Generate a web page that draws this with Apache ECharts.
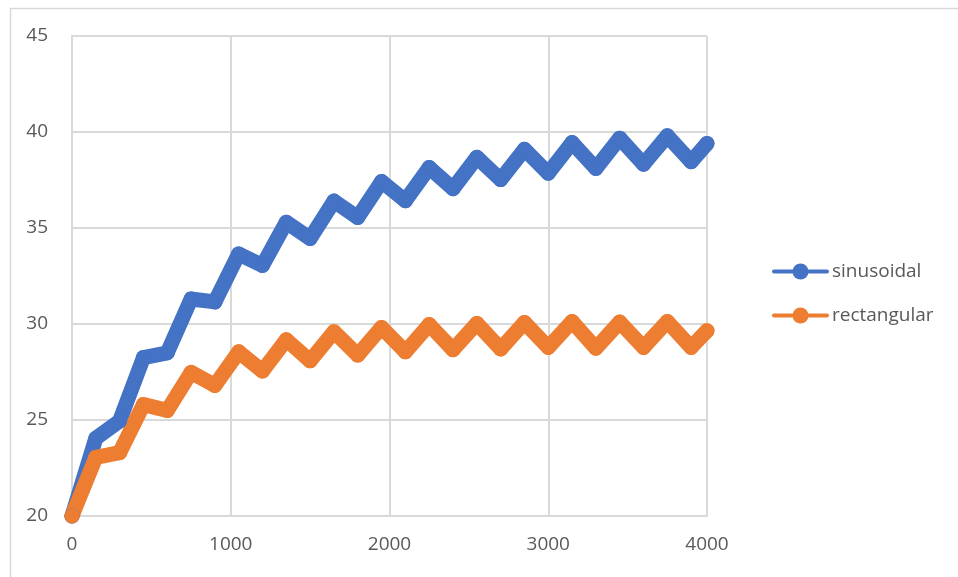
<!DOCTYPE html>
<html>
<head>
<meta charset="utf-8">
<script src="https://cdn.jsdelivr.net/npm/echarts@6/dist/echarts.min.js"></script>
<style>html,body{margin:0;padding:0;background:#fff;}#chart{width:958px;height:577px;}</style>
</head>
<body>
<div id="chart"></div>
<script>
var xValues = [0,150,300,450,600,750,900,1050,1200,1350,1500,1650,1800,1950,2100,2250,2400,2550,2700,2850,3000,3150,3300,3450,3600,3750,3900,4000];
var sinusoidal = [20,24.05,24.95,28.25,28.5,31.3,31.15,33.65,33.05,35.3,34.45,36.4,35.55,37.42,36.42,38.15,37.05,38.68,37.52,39.1,37.85,39.45,38.1,39.68,38.32,39.8,38.45,39.4];
var rectangular = [20,23.05,23.3,25.8,25.5,27.48,26.8,28.55,27.55,29.18,28.08,29.6,28.38,29.82,28.55,29.97,28.66,30.03,28.7,30.08,28.78,30.13,28.74,30.1,28.78,30.13,28.78,29.65];
var seriesNames = ['sinusoidal','rectangular'];

function pairs(ys){ return xValues.map(function(x,i){ return [x, ys[i]]; }); }

var chart = echarts.init(document.getElementById('chart'));
var font = '"Open Sans", "Liberation Sans", sans-serif';
var gridColor = '#d9d9d9';
chart.setOption({
  animation: false,
  backgroundColor: '#fff',
  graphic: [{
    type: 'rect', left: 8, top: 6, shape: {width: 1000, height: 1000},
    style: {fill: 'none', stroke: gridColor, lineWidth: 1.5}, silent: true
  }],
  grid: {left: 72, right: 251, top: 36, bottom: 61},
  legend: {
    orient: 'vertical', left: 772, top: 262, padding: 0, itemWidth: 53, itemHeight: 20, itemGap: 25,
    textStyle: {fontFamily: font, fontSize: 19, color: '#595959'},
    lineStyle: {width: 4},
    data: seriesNames
  },
  xAxis: {
    type: 'value', min: 0, max: 4000, interval: 1000,
    axisLine: {show: true, lineStyle: {color: gridColor, width: 2}},
    axisTick: {show: false},
    splitLine: {show: true, lineStyle: {color: gridColor, width: 2}},
    axisLabel: {fontFamily: font, fontSize: 19, color: '#595959', margin: 19,
      formatter: function(v){ return String(v); }}
  },
  yAxis: {
    type: 'value', min: 20, max: 45, interval: 5,
    axisLine: {show: true, lineStyle: {color: gridColor, width: 2}},
    axisTick: {show: false},
    splitLine: {show: true, lineStyle: {color: gridColor, width: 2}},
    axisLabel: {fontFamily: font, fontSize: 19, color: '#595959', margin: 24}
  },
  series: [
    {name: seriesNames[0], type: 'line', data: pairs(sinusoidal), color: '#4472C4',
     symbol: 'circle', symbolSize: 15, showSymbol: true,
     itemStyle: {color: '#4472C4'},
     lineStyle: {width: 15, cap: 'round', join: 'round', color: '#4472C4'}},
    {name: seriesNames[1], type: 'line', data: pairs(rectangular), color: '#ED7D31',
     symbol: 'circle', symbolSize: 15, showSymbol: true,
     itemStyle: {color: '#ED7D31'},
     lineStyle: {width: 15, cap: 'round', join: 'round', color: '#ED7D31'}}
  ]
});
</script>
</body>
</html>
